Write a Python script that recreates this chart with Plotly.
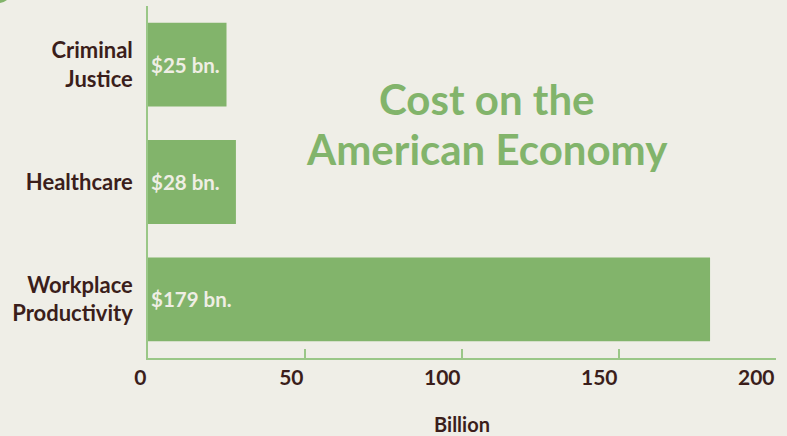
import plotly.graph_objects as go

ZW = "\u200c"
categories = ["Criminal<br>Jus" + ZW + "tice", "Healthcare", "Workplace<br>Produc" + ZW + "tivity"]
values = [25, 28, 179]
bar_labels = ["$25 bn.", "$28 bn.", "$179 bn."]
x_ticks = [0, 50, 100, 150, 200]
title_lines = ["Cost on the", "American Economy"]

BG = "#efeee7"
GREEN = "#82b46b"
LINE = "#9ac787"
BROWN = "#3b1e1b"
FONT = "Lato"

fig = go.Figure(go.Bar(
    y=categories, x=values, orientation="h",
    marker=dict(color=GREEN, line=dict(width=0)),
    text=bar_labels, textposition="inside", insidetextanchor="start",
    textfont=dict(family=FONT, size=20.5, color="#efeee4", weight="bold"),
    hoverinfo="skip",
))

title_y_px = [99, 149]
annotations = [dict(
    text=t, xref="paper", yref="paper",
    x=(487 - 148) / 628, y=1 - (yp - 6) / 352, xanchor="center", yanchor="middle",
    showarrow=False, font=dict(family=FONT, size=42, color=GREEN, weight="bold"),
) for t, yp in zip(title_lines, title_y_px)]

fig.update_layout(
    width=787, height=436,
    margin=dict(l=148, r=11, t=6, b=78),
    paper_bgcolor=BG, plot_bgcolor=BG,
    bargap=0.285,
    showlegend=False,
    xaxis=dict(
        range=[0, 200], tickvals=x_ticks, showgrid=False, zeroline=False,
        showline=True, linecolor=LINE, linewidth=1.5,
        ticks="inside", ticklen=9, tickcolor=LINE, tickwidth=1.5,
        ticklabelposition="outside left",
        tickfont=dict(family=FONT, size=21, color=BROWN, weight="bold"),
        title=dict(text="Billion", font=dict(family=FONT, size=20, color=BROWN, weight="bold"), standoff=32),
        automargin=False,
        fixedrange=True,
    ),
    yaxis=dict(
        autorange="reversed", showgrid=False, zeroline=False,
        showline=True, linecolor=LINE, linewidth=1.5, ticks="",
        ticklabelstandoff=9,
        tickfont=dict(family=FONT, size=22, color=BROWN, weight="bold"),
        automargin=False,
        fixedrange=True,
    ),
    annotations=annotations,
    shapes=[dict(
        type="circle", xref="paper", yref="paper", xsizemode="pixel", ysizemode="pixel",
        xanchor=-148 / 628, yanchor=1 + 6 / 352,
        x0=-2 - 15, x1=-2 + 15, y0=12 - 15, y1=12 + 15,
        fillcolor=GREEN, line=dict(width=0), layer="above",
    )],
)

fig.write_html("out.html", config={"displayModeBar": False})
